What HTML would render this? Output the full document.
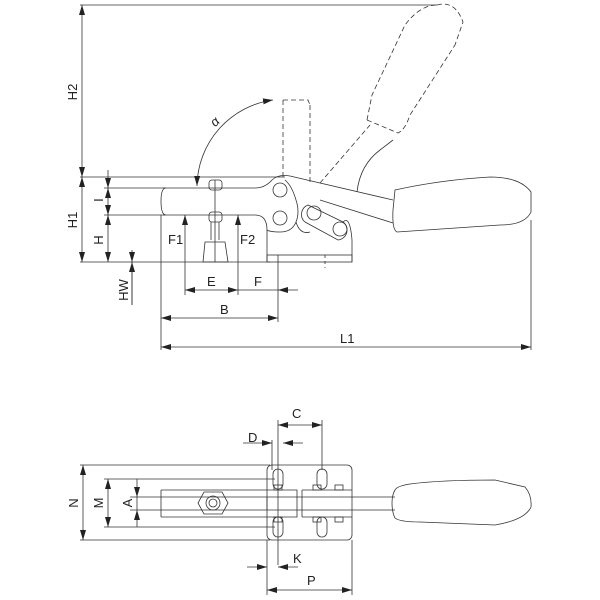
<!DOCTYPE html>
<html><head><style>body{margin:0;background:#fff}svg{display:block}</style></head><body>
<svg width="600" height="600" viewBox="0 0 600 600" xmlns="http://www.w3.org/2000/svg">
<defs>
<marker id="a" viewBox="0 0 10 6" refX="10" refY="3" markerWidth="10" markerHeight="6" orient="auto-start-reverse" markerUnits="userSpaceOnUse"><path d="M0,0L10,3L0,6z" fill="#222"/></marker>
</defs>
<g stroke="#333" stroke-width="0.8" fill="none">
<line x1="80" y1="5" x2="437" y2="5"/>
<line x1="80" y1="177" x2="285" y2="177"/>
<line x1="80" y1="262" x2="270" y2="262"/>
<line x1="104" y1="188" x2="165" y2="188"/>
<line x1="104" y1="215" x2="165" y2="215"/>
<line x1="82" y1="5" x2="82" y2="177" marker-start="url(#a)" marker-end="url(#a)"/>
<line x1="82" y1="177" x2="82" y2="262" marker-start="url(#a)" marker-end="url(#a)"/>
<line x1="108" y1="188" x2="108" y2="215" marker-start="url(#a)" marker-end="url(#a)"/>
<line x1="108" y1="215" x2="108" y2="262" marker-start="url(#a)" marker-end="url(#a)"/>
<line x1="108" y1="170" x2="108" y2="188" marker-end="url(#a)"/>
<line x1="132" y1="250" x2="132" y2="262" marker-end="url(#a)"/>
<line x1="132" y1="305" x2="132" y2="262" marker-end="url(#a)"/>
<line x1="132" y1="262" x2="132" y2="305"/>
<path d="M197,186 A88,88 0 0 1 273,100" marker-start="url(#a)" marker-end="url(#a)"/>
<path d="M163,215 L255,215 Q267,215 267,230 L267,262"/>
<path d="M163,188 L255,188 Q265,188 272,180 Q278,174 290,176 L393,200"/>
<path d="M166,188 Q161,188 161,201 Q161,215 166,215"/>
<rect x="267" y="255" width="85" height="7"/>
<line x1="352" y1="240" x2="352" y2="262"/>
<path d="M267,230 Q270,232 280,232 Q292,232 296,222 Q300,212 296,200 Q292,186 285,180"/>
<circle cx="280" cy="190" r="7"/><circle cx="280" cy="218" r="7"/>
<path d="M308,205 L343,222 A10,10 0 0 1 338,240 L305,222 A10,10 0 0 1 308,205z"/>
<circle cx="314" cy="213" r="7"/><circle cx="340" cy="229" r="7"/>
<path d="M296,222 Q300,235 310,232"/>
<path d="M343,222 Q350,215 352,240"/>
<path d="M320,200 L393,223"/>
<rect x="209" y="180" width="13" height="10" rx="3"/>
<rect x="209" y="212" width="13" height="10" rx="3"/>
<line x1="215" y1="180" x2="215" y2="262"/>
<line x1="211" y1="222" x2="211" y2="240"/><line x1="219" y1="222" x2="219" y2="240"/>
<path d="M205,242 L225,242 L228,262 L203,262z"/>
<path d="M395,190 Q440,180 490,177 Q520,177 531,192 L531,212 Q525,225 500,225 L397,232 Q392,230 393,210z"/>
<g stroke-dasharray="5,3">
<line x1="283" y1="100" x2="283" y2="180"/>
<line x1="310" y1="105" x2="310" y2="183"/>
<path d="M283,100 L308,100 L310,105"/>
<path d="M320,183 L370,125"/>
<path d="M367,120 Q370,105 372,95 L405,25 Q420,5 437,5"/>
<path d="M367,120 L398,133 Q405,130 410,115 L455,45"/>
<path d="M437,5 Q455,0 463,22 L455,45"/>
</g>
<path d="M357,192 Q360,165 380,150 L393,140"/>
<line x1="185" y1="262" x2="185" y2="215" marker-end="url(#a)"/>
<line x1="238" y1="262" x2="238" y2="215" marker-end="url(#a)"/>
<line x1="185" y1="262" x2="185" y2="295"/>
<line x1="238" y1="262" x2="238" y2="295"/>
<line x1="161" y1="215" x2="161" y2="350"/>
<line x1="278" y1="255" x2="278" y2="322"/>
<line x1="531" y1="220" x2="531" y2="350"/>
<line x1="325" y1="255" x2="325" y2="268" stroke-dasharray="3,3"/>
<line x1="185" y1="290" x2="238" y2="290" marker-start="url(#a)" marker-end="url(#a)"/>
<line x1="238" y1="290" x2="278" y2="290"/>
<line x1="298" y1="290" x2="278" y2="290" marker-end="url(#a)"/>
<line x1="161" y1="318" x2="278" y2="318" marker-start="url(#a)" marker-end="url(#a)"/>
<line x1="161" y1="347" x2="531" y2="347" marker-start="url(#a)" marker-end="url(#a)"/>

<line x1="80" y1="465" x2="270" y2="465"/>
<line x1="80" y1="540" x2="270" y2="540"/>
<line x1="104" y1="479" x2="275" y2="479"/>
<line x1="104" y1="527" x2="275" y2="527"/>
<line x1="83" y1="465" x2="83" y2="540" marker-start="url(#a)" marker-end="url(#a)"/>
<line x1="108" y1="479" x2="108" y2="527" marker-start="url(#a)" marker-end="url(#a)"/>
<line x1="137" y1="479" x2="137" y2="497" marker-end="url(#a)"/>
<line x1="137" y1="527" x2="137" y2="510" marker-end="url(#a)"/>
<line x1="137" y1="497" x2="137" y2="510"/>
<line x1="130" y1="497" x2="161" y2="497"/>
<line x1="130" y1="510" x2="161" y2="510"/>
<rect x="267" y="465" width="85" height="75" rx="5"/>
<path d="M161,490 L267,490 M161,517 L267,517 M161,490 L161,517"/>
<line x1="161" y1="497" x2="395" y2="497"/>
<line x1="161" y1="510" x2="395" y2="510"/>
<line x1="267" y1="497" x2="267" y2="510"/>
<path d="M267,490 L297,490 L297,517 L267,517"/>
<path d="M302,490 L352,490 M302,517 L352,517 M302,490 L302,517"/>
<rect x="274" y="485" width="8" height="5"/><rect x="313" y="485" width="8" height="5"/><rect x="335" y="485" width="8" height="5"/>
<rect x="274" y="517" width="8" height="5"/><rect x="313" y="517" width="8" height="5"/><rect x="335" y="517" width="8" height="5"/>
<rect x="273" y="469" width="10" height="20" rx="5"/>
<rect x="317" y="469" width="10" height="20" rx="5"/>
<rect x="273" y="517" width="10" height="20" rx="5"/>
<rect x="317" y="517" width="10" height="20" rx="5"/>
<path d="M204,492 L222,492 L228,503 L222,514 L204,514 L198,503z"/>
<circle cx="213" cy="503" r="7"/><circle cx="213" cy="503" r="4"/>
<path d="M395,490 Q392,495 392,503 Q392,512 395,518 Q400,522 420,522 L495,525 Q525,520 531,507 Q532,495 525,487 L495,480 Q440,480 410,484 Q397,486 395,490z"/>
<line x1="278" y1="420" x2="278" y2="565"/>
<line x1="322" y1="420" x2="322" y2="470"/>
<line x1="272" y1="440" x2="272" y2="470"/>
<line x1="278" y1="425" x2="322" y2="425" marker-start="url(#a)" marker-end="url(#a)"/>
<line x1="243" y1="443" x2="272" y2="443" marker-end="url(#a)"/>
<line x1="303" y1="443" x2="283" y2="443" marker-end="url(#a)"/>
<line x1="267" y1="540" x2="267" y2="595"/>
<line x1="352" y1="540" x2="352" y2="595"/>
<line x1="247" y1="567" x2="267" y2="567" marker-end="url(#a)"/>
<line x1="298" y1="567" x2="278" y2="567" marker-end="url(#a)"/>
<line x1="267" y1="590" x2="352" y2="590" marker-start="url(#a)" marker-end="url(#a)"/>
</g>
<g font-family="Liberation Sans, sans-serif" font-size="13" fill="#222">
<text x="168" y="244">F1</text>
<text x="240" y="244">F2</text>
<text x="207" y="286">E</text>
<text x="254" y="286">F</text>
<text x="220" y="314">B</text>
<text x="340" y="343">L1</text>
<text x="292" y="418">C</text>
<text x="248" y="442">D</text>
<text x="293" y="563">K</text>
<text x="307" y="585">P</text>
<text x="211" y="125" font-style="italic" transform="rotate(-45 216 121)">α</text>
<g text-anchor="middle">
<text transform="translate(77,92) rotate(-90)">H2</text>
<text transform="translate(77,220) rotate(-90)">H1</text>
<text transform="translate(103,240) rotate(-90)">H</text>
<text transform="translate(103,200) rotate(-90)">I</text>
<text transform="translate(128,290) rotate(-90)">HW</text>
<text transform="translate(78,503) rotate(-90)">N</text>
<text transform="translate(103,503) rotate(-90)">M</text>
<text transform="translate(132,503) rotate(-90)">A</text>
</g>
</g>
</svg>
</body></html>
